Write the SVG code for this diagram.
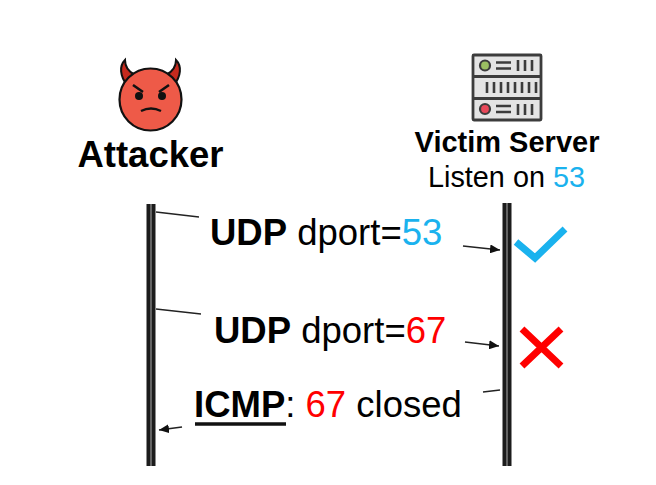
<svg xmlns="http://www.w3.org/2000/svg" width="656" height="485" viewBox="0 0 656 485">
<style>
text{font-family:"Liberation Sans",Arial,sans-serif;fill:#000}
.b{font-weight:700}
.blue{fill:#1ab2ee}
.red{fill:#ff0000}
.life{stroke:#1c1c1c;stroke-width:9;fill:none}
.lifein{stroke:#777;stroke-width:1.600;fill:none}
.msg{stroke:#222;stroke-width:1.600;fill:none}
.ic{stroke:#3c3c3c;stroke-width:2.600;fill:none}
</style>
<defs>
<marker id="a" markerUnits="userSpaceOnUse" markerWidth="11" markerHeight="9" refX="10" refY="4.500" orient="auto"><path d="M0 0L10 4.500L0 9Z" fill="#111"/></marker>
</defs>
<rect width="656" height="485" fill="#fff"/>
<g id="attacker">
<path d="M125 60C119 66 120 76 127 85L135 75C129 72 125 68 125 60Z" fill="#c62a1e" stroke="#111" stroke-width="2"/>
<path d="M176 60C182 66 181 76 174 85L166 75C172 72 176 68 176 60Z" fill="#c62a1e" stroke="#111" stroke-width="2"/>
<circle cx="150.500" cy="99.500" r="31" fill="#ee5a48" stroke="#111" stroke-width="2.200"/>
<circle cx="139" cy="96" r="4" fill="#111"/><circle cx="162" cy="96" r="4" fill="#111"/>
<path d="M133 85L143 92M169 85L159 92" stroke="#111" stroke-width="2.600" fill="none"/>
<path d="M141 111Q151 106 161 111" stroke="#111" stroke-width="2.400" fill="none"/>
<text class="b" x="150.500" y="166.500" font-size="36.500" text-anchor="middle">Attacker</text>
</g>
<g id="victim">
<rect x="473" y="55" width="68" height="65" rx="1" fill="#e4e4e4" stroke="#3c3c3c" stroke-width="2.800"/>
<path d="M473 76.500H541M473 98.500H541" stroke="#3c3c3c" stroke-width="2.800"/>
<circle cx="485" cy="65.500" r="5" fill="#9bbf62" stroke="#3c3c3c" stroke-width="2.200"/>
<circle cx="485" cy="109" r="5" fill="#e8495a" stroke="#3c3c3c" stroke-width="2.200"/>
<path class="ic" d="M496 62.500H511M496 68.500H511M496 106H511M496 112H511M518 60V71M525 60V71M532 60V71M518 104V115M525 104V115M532 104V115M487 82V93M494 82V93M501 82V93M508 82V93M515 82V93M522 82V93M529 82V93M536 82V93"/>
<text class="b" x="507" y="152" font-size="29" text-anchor="middle">Victim Server</text>
<text x="506.500" y="187" font-size="28.800" text-anchor="middle">Listen on <tspan class="blue">53</tspan></text>
</g>
<g id="connectors">
<path class="life" d="M151 204V466"/><path class="lifein" d="M151 204V466"/>
<path class="life" d="M507 203V466"/><path class="lifein" d="M507 203V466"/>
<path class="msg" d="M156 212L199 217"/>
<path class="msg" d="M463 246L500 250" marker-end="url(#a)"/>
<path class="msg" d="M156 309L201 314"/>
<path class="msg" d="M465 342L499 346" marker-end="url(#a)"/>
<path class="msg" d="M500 390L483 392"/>
<path class="msg" d="M182 427L159 430" marker-end="url(#a)"/>
</g>
<g id="msg1"><text x="210" y="245" font-size="36.500"><tspan class="b">UDP</tspan> dport=<tspan class="blue">53</tspan></text></g>
<g id="msg2"><text x="214" y="343" font-size="36.500"><tspan class="b">UDP</tspan> dport=<tspan class="red">67</tspan></text></g>
<g id="msg3"><text x="194" y="417" font-size="36.500"><tspan class="b">ICMP</tspan>: <tspan class="red">67</tspan> closed</text><path d="M195 424H286" stroke="#111" stroke-width="3.500"/></g>
<g id="check"><path d="M516 242L535 258L565 229" fill="none" stroke="#1ab2ee" stroke-width="7"/></g>
<g id="cross"><path d="M522 329L561 366M561 329L522 366" fill="none" stroke="#ff0000" stroke-width="7"/></g>
</svg>
